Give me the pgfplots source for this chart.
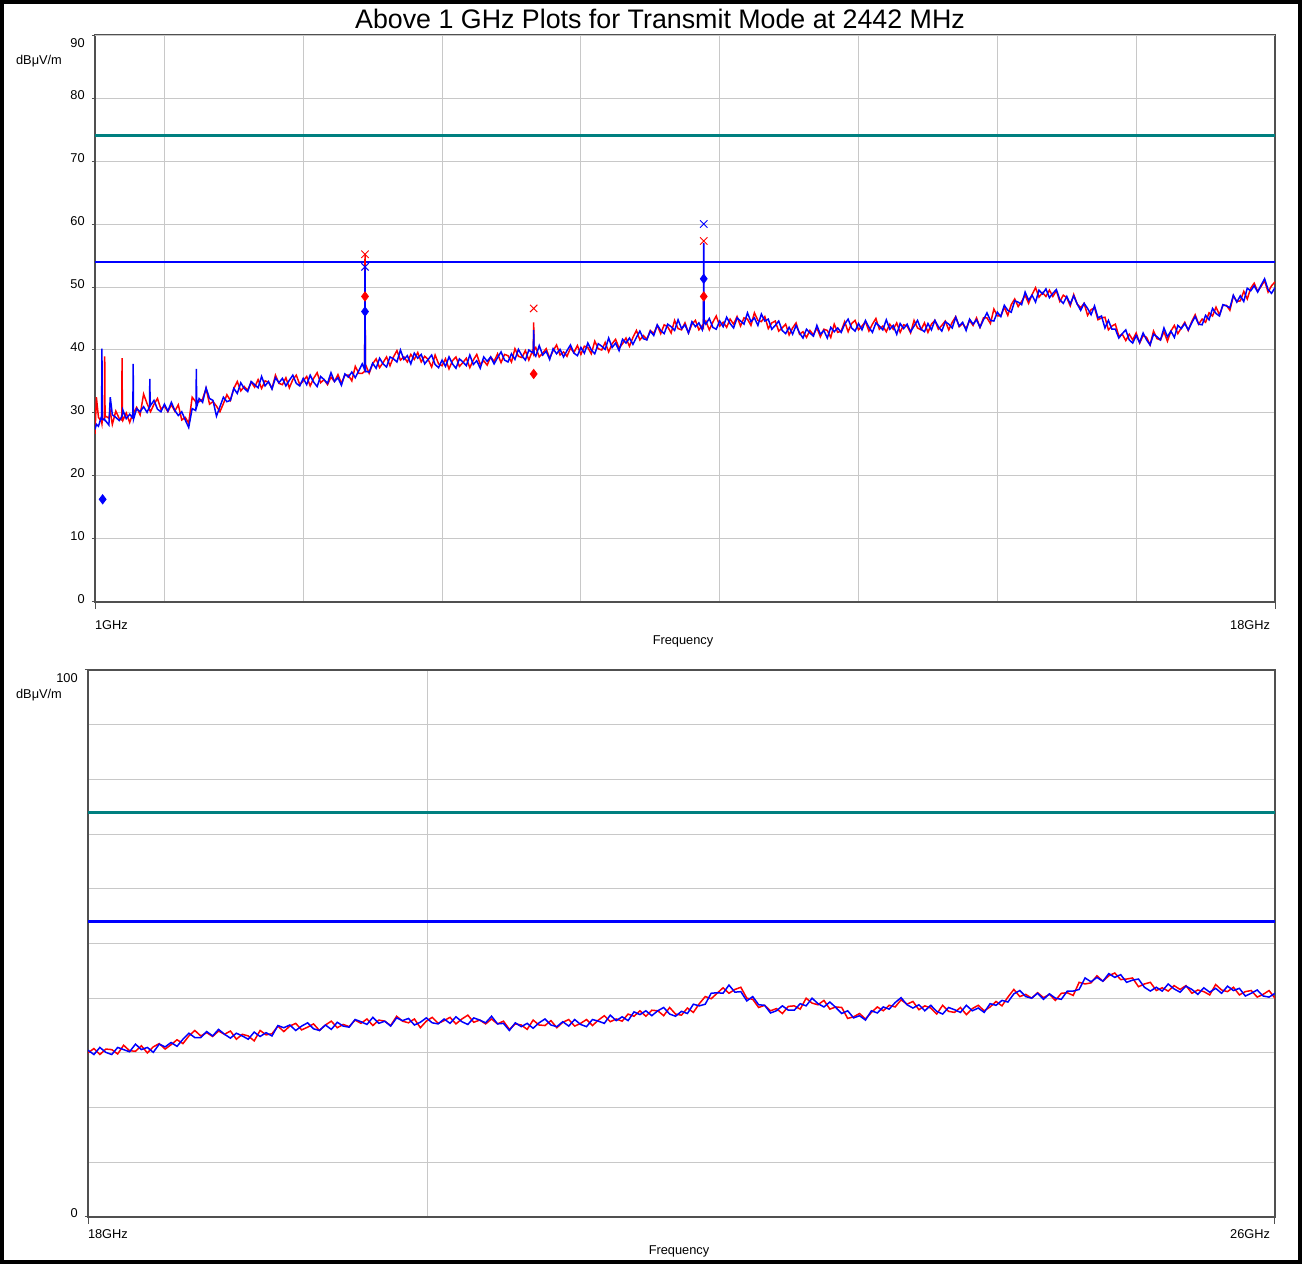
\documentclass[border=0pt]{standalone}
\usepackage{fontspec}
\setmainfont{Liberation Sans}
\usepackage{pgfplots}
\usepackage{pgfplotstable}
\pgfplotsset{compat=1.18}

\definecolor{limteal}{RGB}{0,128,128}
\definecolor{trred}{RGB}{255,0,0}
\definecolor{trblue}{RGB}{0,0,255}
\definecolor{gridc}{RGB}{200,200,200}
\definecolor{framec}{RGB}{80,80,80}

\newcommand{\smallf}{\fontsize{6.4}{7.5}\selectfont}

% 1 - 18 GHz scan: x = GHz, r = red trace, b = blue trace
\pgfplotstableread{
x r b
1.00 26.7 27.4
1.02 32.5 28.2
1.05 29.3 27.9
1.095 28.6 29.5
1.10 28.3 40.2
1.105 28.9 29.0
1.135 29.2 28.9
1.14 39.0 29.0
1.145 29.4 28.8
1.15 29.5 28.8
1.20 29.2 28.1
1.22 30.2 32.5
1.25 28.2 29.7
1.30 30.3 29.3
1.35 29.1 28.8
1.385 28.9 29.4
1.39 38.7 29.6
1.395 29.0 29.8
1.40 28.8 30.5
1.45 30.0 29.1
1.50 28.5 29.8
1.545 29.9 29.2
1.55 30.1 37.8
1.555 30.0 29.0
1.60 30.9 30.7
1.65 29.7 30.2
1.70 33.0 31.0
1.75 31.5 30.1
1.785 30.6 31.0
1.79 30.4 35.4
1.795 30.3 31.1
1.80 30.2 31.2
1.85 31.4 32.0
1.90 32.3 30.6
1.95 30.6 30.2
2.00 31.1 31.4
2.05 30.2 30.3
2.10 31.3 31.7
2.15 30.3 30.4
2.20 31.3 29.6
2.25 28.9 30.2
2.30 29.3 28.9
2.35 28.4 27.7
2.40 32.5 30.7
2.45 31.8 30.4
2.455 31.6 30.8
2.46 31.5 37.0
2.465 31.6 31.0
2.50 31.8 32.3
2.55 32.2 31.7
2.60 33.9 34.0
2.65 31.4 32.3
2.70 31.8 32.0
2.75 31.1 29.5
2.80 30.2 31.0
2.85 31.5 32.5
2.90 32.9 31.8
2.95 32.0 32.0
3.00 33.9 33.9
3.05 35.0 33.1
3.10 33.5 34.8
3.15 34.2 33.9
3.20 33.6 33.4
3.25 34.9 35.0
3.30 34.1 34.5
3.35 35.3 34.0
3.40 33.9 35.8
3.45 35.1 34.3
3.50 34.9 35.0
3.55 33.9 33.8
3.60 36.0 35.6
3.65 34.7 34.8
3.70 34.5 35.5
3.75 35.6 34.3
3.80 34.0 35.2
3.85 35.3 36.0
3.90 36.0 34.7
3.95 34.5 34.3
4.00 35.1 35.5
4.05 35.8 34.5
4.10 34.3 36.0
4.15 35.5 34.9
4.20 36.4 34.2
4.25 34.8 35.8
4.30 35.3 35.3
4.35 34.5 34.7
4.40 35.7 36.4
4.45 35.0 35.0
4.50 36.1 35.6
4.55 34.7 34.4
4.60 36.0 36.2
4.65 36.0 35.7
4.70 35.1 36.5
4.75 37.4 35.6
4.80 36.3 36.7
4.85 36.3 37.8
4.885 36.6 36.9
4.89 55.2 53.2
4.895 37.5 37.2
4.90 37.6 36.6
4.95 36.3 36.5
5.00 37.8 37.9
5.05 38.6 37.1
5.10 37.2 38.7
5.15 38.0 37.8
5.20 38.9 37.3
5.25 37.5 38.9
5.30 38.9 38.6
5.35 39.9 38.1
5.40 38.4 40.0
5.45 38.9 38.5
5.50 38.1 39.1
5.55 39.3 37.8
5.60 38.5 39.5
5.65 39.6 38.7
5.70 38.1 39.3
5.75 39.0 37.8
5.80 38.5 38.5
5.85 37.3 39.2
5.90 39.2 37.7
5.95 37.8 37.2
6.00 37.5 38.4
6.05 38.6 37.4
6.10 37.0 38.9
6.15 38.3 37.8
6.20 38.9 37.1
6.25 37.4 38.6
6.30 38.0 38.1
6.35 38.7 37.5
6.40 37.2 39.2
6.45 38.4 37.7
6.50 39.3 38.3
6.55 37.7 37.1
6.60 38.3 38.9
6.65 37.6 38.2
6.70 38.9 38.9
6.75 38.2 37.8
6.80 39.4 38.8
6.85 38.0 39.7
6.90 39.3 38.4
6.95 39.1 38.1
7.00 38.1 39.4
7.05 40.2 38.5
7.10 39.0 40.1
7.15 38.8 39.1
7.20 39.9 38.4
7.25 38.4 40.0
7.30 39.8 39.6
7.315 39.4 39.8
7.32 44.4 43.2
7.325 40.0 39.4
7.35 40.4 39.0
7.40 38.9 40.7
7.45 39.5 39.2
7.50 40.2 39.8
7.55 38.7 38.5
7.60 39.9 40.2
7.65 40.8 39.4
7.70 39.2 40.1
7.75 39.7 38.9
7.80 39.0 39.9
7.85 40.3 40.8
7.90 39.6 39.5
7.95 40.7 39.1
8.00 39.3 40.4
8.05 40.6 39.5
8.10 40.4 41.1
8.15 39.4 40.0
8.20 41.4 39.4
8.25 40.2 41.0
8.30 40.0 40.6
8.35 41.2 40.1
8.40 39.7 41.9
8.45 41.0 40.4
8.50 41.7 41.1
8.55 40.3 39.9
8.60 41.0 41.7
8.65 41.9 41.1
8.70 40.6 41.9
8.75 42.0 40.9
8.80 43.1 42.0
8.85 41.6 43.0
8.90 42.3 41.8
8.95 41.7 41.6
9.00 43.1 43.0
9.05 42.6 42.3
9.10 43.9 44.0
9.15 42.6 43.1
9.20 44.0 42.6
9.25 43.7 44.1
9.30 42.7 43.7
9.35 44.7 43.1
9.40 43.4 44.8
9.45 43.2 43.4
9.50 44.3 44.0
9.55 42.7 42.7
9.60 44.1 44.5
9.65 44.7 43.7
9.70 43.2 44.3
9.75 43.9 43.2
9.765 43.6 44.0
9.77 48.0 57.0
9.775 44.2 44.6
9.80 44.6 44.1
9.85 43.2 45.0
9.90 44.4 43.6
9.95 45.4 43.3
10.00 43.8 44.6
10.05 44.4 43.7
10.10 43.6 45.2
10.15 44.9 44.2
10.20 44.1 43.5
10.25 45.3 45.1
10.30 43.8 44.6
10.35 45.1 44.1
10.40 44.9 45.9
10.45 43.9 44.5
10.50 45.9 45.1
10.55 44.7 43.9
10.60 44.5 45.7
10.65 45.3 44.6
10.70 43.4 44.9
10.75 44.3 43.3
10.80 44.6 43.9
10.85 43.0 44.6
10.90 43.5 43.1
10.95 44.1 42.6
11.00 42.4 43.6
11.05 43.5 42.5
11.10 44.3 43.9
11.15 42.5 42.7
11.20 42.9 41.9
11.25 42.0 43.3
11.30 43.1 42.7
11.35 42.4 42.2
11.40 43.5 43.9
11.45 42.1 42.5
11.50 43.3 43.1
11.55 43.1 41.9
11.60 42.0 43.6
11.65 44.1 42.9
11.70 42.8 43.5
11.75 43.0 42.8
11.80 44.5 44.1
11.85 42.9 44.9
11.90 44.2 43.5
11.95 44.7 43.0
12.00 43.2 44.2
12.05 43.8 43.2
12.10 44.5 44.7
12.15 43.0 43.6
12.20 44.1 42.8
12.25 45.0 44.3
12.30 43.3 43.8
12.35 43.8 43.2
12.40 42.9 44.8
12.45 44.1 43.3
12.50 43.3 43.9
12.55 44.3 42.5
12.60 42.8 44.2
12.65 44.0 43.4
12.70 43.8 44.1
12.75 42.7 42.9
12.80 44.7 43.8
12.85 43.5 44.7
12.90 43.2 43.3
12.95 44.3 42.9
13.00 42.8 44.2
13.05 44.1 43.2
13.10 44.7 44.7
13.15 43.3 43.7
13.20 43.9 43.0
13.25 44.6 44.5
13.30 43.2 44.1
13.35 44.4 43.5
13.40 45.3 45.2
13.45 43.7 43.8
13.50 44.2 44.4
13.55 43.4 43.1
13.60 44.7 44.9
13.65 43.9 44.1
13.70 45.1 44.8
13.75 43.6 43.6
13.80 45.1 44.8
13.85 45.1 45.9
13.90 44.2 44.7
13.95 46.5 44.6
14.00 45.4 46.0
14.05 45.4 45.3
14.10 46.8 47.1
14.15 45.5 46.3
14.20 47.2 46.0
14.25 48.1 47.8
14.30 46.9 47.6
14.35 47.7 47.2
14.40 48.7 49.2
14.45 47.4 47.9
14.50 48.8 48.7
14.55 49.9 47.6
14.60 48.4 49.5
14.65 49.1 48.9
14.70 48.5 49.7
14.75 49.5 48.3
14.80 48.5 49.0
14.85 49.4 49.6
14.90 47.7 48.0
14.95 48.7 47.4
15.00 48.3 48.5
15.05 47.0 47.3
15.10 48.8 48.6
15.15 47.3 47.3
15.20 46.7 46.3
15.25 47.4 47.4
15.30 45.5 46.6
15.35 46.4 45.6
15.40 46.7 47.0
15.45 44.8 45.1
15.50 45.1 45.4
15.55 45.2 43.5
15.60 43.2 44.7
15.65 43.8 43.3
15.70 44.1 43.3
15.75 42.2 41.9
15.80 42.5 42.6
15.85 41.5 43.2
15.90 42.5 41.6
15.95 41.6 41.1
16.00 42.7 42.3
16.05 41.1 41.2
16.10 42.3 42.7
16.15 42.0 41.6
16.20 40.8 40.8
16.25 43.0 42.5
16.30 41.8 42.1
16.35 41.6 41.6
16.40 42.9 43.5
16.45 41.4 42.1
16.50 43.0 43.0
16.55 43.9 42.0
16.60 42.6 43.9
16.65 43.5 43.4
16.70 44.4 44.2
16.75 43.1 43.2
16.80 44.5 44.3
16.85 45.6 45.3
16.90 44.1 44.1
16.95 44.9 44.0
17.00 44.4 45.5
17.05 45.9 44.8
17.10 45.4 46.6
17.15 46.8 45.8
17.20 45.6 45.4
17.25 47.1 47.2
17.30 47.1 47.0
17.35 46.3 46.7
17.40 48.6 48.7
17.45 47.7 47.6
17.50 47.8 48.6
17.55 49.3 47.7
17.60 48.1 49.8
17.65 49.8 49.4
17.70 50.6 50.2
17.75 49.3 49.2
17.80 50.1 50.3
17.85 51.0 51.3
17.90 49.2 49.6
17.95 50.2 49.0
18.00 50.8 49.9
}\toptab

% 18 - 26 GHz scan
\pgfplotstableread{
x r b
18.00 30.0 30.5
18.04 30.8 29.7
18.08 29.7 31.0
18.12 30.7 30.1
18.16 30.6 29.7
18.20 29.8 31.0
18.24 31.4 30.6
18.28 30.4 30.2
18.32 30.3 31.6
18.36 31.3 30.6
18.40 30.0 31.0
18.44 31.1 30.1
18.48 31.7 31.6
18.52 30.7 31.1
18.56 31.5 31.9
18.60 32.4 31.2
18.64 31.7 32.5
18.68 33.1 33.6
18.72 34.1 32.8
18.76 33.1 32.8
18.80 33.7 33.9
18.84 33.0 33.1
18.88 34.0 34.3
18.92 33.4 33.4
18.96 34.0 32.7
19.00 32.5 33.6
19.04 33.4 33.1
19.08 33.1 32.5
19.12 32.2 33.8
19.16 34.1 33.0
19.20 33.3 33.7
19.24 33.5 33.1
19.28 34.9 35.0
19.32 33.9 34.6
19.36 34.9 35.1
19.40 35.4 34.1
19.44 34.2 34.9
19.48 34.7 35.5
19.52 35.3 34.4
19.56 34.1 34.1
19.60 35.1 35.1
19.64 35.8 34.3
19.68 34.6 35.6
19.72 35.2 34.9
19.76 34.8 34.7
19.80 36.0 36.1
19.84 35.4 35.7
19.88 36.2 35.2
19.92 35.0 36.5
19.96 36.0 35.4
20.00 35.8 35.8
20.04 35.0 34.9
20.08 36.7 36.4
20.12 35.8 35.9
20.16 35.5 36.3
20.20 36.2 35.1
20.24 34.6 35.6
20.28 35.8 36.4
20.32 36.5 35.5
20.36 35.4 35.3
20.40 35.9 36.2
20.44 36.5 35.4
20.48 35.3 36.6
20.52 36.2 35.7
20.56 36.9 35.2
20.60 35.6 36.4
20.64 36.0 36.0
20.68 35.3 35.5
20.72 36.2 36.7
20.76 35.3 35.3
20.80 35.8 35.4
20.84 34.3 34.1
20.88 35.3 35.5
20.92 35.1 34.8
20.96 34.3 35.4
21.00 36.0 34.5
21.04 35.1 35.5
21.08 35.0 36.2
21.12 35.9 35.1
21.16 34.6 34.8
21.20 35.6 35.7
21.24 36.1 34.9
21.28 34.9 36.1
21.32 35.4 35.2
21.36 36.1 34.8
21.40 35.0 36.1
21.44 36.0 35.8
21.48 36.8 35.4
21.52 35.7 36.9
21.56 36.2 35.9
21.60 35.8 36.6
21.64 37.1 35.9
21.68 36.7 37.5
21.72 37.7 37.0
21.76 36.7 37.7
21.80 37.8 36.8
21.84 37.7 37.7
21.88 36.8 38.3
21.92 38.3 37.1
21.96 37.1 36.7
22.00 36.9 37.6
22.04 38.2 37.2
22.08 37.4 38.9
22.12 39.0 38.6
22.16 40.3 38.9
22.20 39.9 40.9
22.24 40.9 41.0
22.28 41.9 40.9
22.32 40.9 42.4
22.36 41.6 41.1
22.40 42.0 41.2
22.44 40.0 39.5
22.48 39.8 40.3
22.52 38.3 38.8
22.56 38.7 38.7
22.60 37.7 37.3
22.64 38.1 37.7
22.68 37.2 38.6
22.72 38.5 37.8
22.76 38.6 37.8
22.80 38.0 39.0
22.84 40.0 38.6
22.88 39.1 40.0
22.92 38.8 39.0
22.96 39.6 38.4
23.00 38.0 39.3
23.04 38.4 38.3
23.08 38.3 37.2
23.12 36.3 37.7
23.16 36.6 36.4
23.20 37.2 36.8
23.24 36.2 36.0
23.28 37.4 37.7
23.32 38.4 37.3
23.36 37.7 38.4
23.40 38.7 38.0
23.44 38.4 39.2
23.48 39.7 40.1
23.52 38.9 38.8
23.56 39.4 38.2
23.60 37.9 38.8
23.64 38.6 37.7
23.68 38.2 38.7
23.72 37.1 37.6
23.76 38.7 37.1
23.80 37.6 38.3
23.84 37.4 37.9
23.88 38.3 37.4
23.92 37.0 38.7
23.96 38.1 37.7
24.00 38.7 38.2
24.04 37.7 37.4
24.08 38.4 39.0
24.12 39.4 38.7
24.16 38.6 39.6
24.20 40.2 39.3
24.24 41.6 40.8
24.28 40.3 41.4
24.32 40.7 40.3
24.36 40.0 40.0
24.40 41.0 40.9
24.44 40.1 39.8
24.48 40.7 40.8
24.52 39.6 40.0
24.56 40.9 39.8
24.60 41.0 41.3
24.64 40.5 41.3
24.68 42.9 41.6
24.72 42.6 43.7
24.76 42.8 43.0
24.80 44.1 43.8
24.84 43.1 43.1
24.88 44.1 44.5
24.92 44.6 43.8
24.96 43.4 44.3
25.00 43.5 42.9
25.04 43.7 43.3
25.08 42.1 43.5
25.12 42.6 42.0
25.16 42.9 41.3
25.20 41.4 42.0
25.24 41.9 41.3
25.28 41.3 42.6
25.32 42.3 41.7
25.36 41.6 41.1
25.40 42.3 42.2
25.44 40.9 41.6
25.48 41.5 40.7
25.52 41.2 41.9
25.56 40.6 41.1
25.60 42.5 41.8
25.64 41.5 40.9
25.68 41.2 42.2
25.72 42.0 41.4
25.76 40.6 41.8
25.80 41.2 40.4
25.84 41.4 40.9
25.88 40.2 41.5
25.92 40.7 40.4
25.96 41.4 40.2
26.00 40.0 40.9
}\bottab

\pgfplotsset{emcplot/.style={
  scale only axis, anchor=south west,
  axis line style={framec, line width=0.6pt},
  tick align=outside, tick pos=left,
  major tick length=1.6pt, minor tick length=0pt,
  tick style={framec, line width=0.5pt},
  grid style={gridc, line width=0.5pt},
  ticklabel style={font=\smallf},
  /pgf/number format/assume math mode=true,
  xtick style={/pgfplots/major tick length=3.5pt},
  xticklabel style={yshift=-4pt},
  yticklabel style={yshift=1.5pt},
}}

\begin{document}
\begin{tikzpicture}

% upper scan, 1 - 18 GHz
\begin{axis}[emcplot,
  at={(47.5pt,331pt)}, width=590pt, height=283.5pt,
  xmin=1, xmax=18, ymin=0, ymax=90,
  xtick={1,18},
  xticklabels={\makebox[0pt][l]{1GHz},\makebox[0pt][r]{18GHz\hspace{2.5pt}}},
  minor xtick={2,4,...,16},
  ytick={0,10,...,80},
  extra y ticks={90},
  extra y tick style={yticklabel style={yshift=-5.5pt}},
  xmajorgrids=false, xminorgrids=true, ymajorgrids=true,
]
\addplot[limteal, line width=1.5pt] coordinates {(1,74) (18,74)};
\addplot[trblue, line width=1.3pt] coordinates {(1,54) (18,54)};
\addplot[trred, line width=0.75pt] table[x=x, y=r] {\toptab};
\addplot[trblue, line width=0.75pt] table[x=x, y=b] {\toptab};
% peak / average markers
\addplot[only marks, mark=x, trred, mark size=2.6pt, line width=0.5pt]
  coordinates {(4.89,55.2) (7.32,46.6) (9.77,57.3)};
\addplot[only marks, mark=x, trblue, mark size=2.6pt, line width=0.5pt]
  coordinates {(4.89,53.2) (9.77,60.0)};
\addplot[only marks, mark=diamond*, trred, mark size=2.3pt]
  coordinates {(4.89,48.5) (7.32,36.2) (9.77,48.5)};
\addplot[only marks, mark=diamond*, trblue, mark size=2.3pt]
  coordinates {(1.11,16.3) (4.89,46.1) (9.77,51.3)};
\end{axis}

% lower scan, 18 - 26 GHz
\begin{axis}[emcplot,
  at={(44pt,23.5pt)}, width=593.5pt, height=273.5pt,
  xmin=18, xmax=26, ymin=0, ymax=100,
  xtick={18,26},
  xticklabels={\makebox[0pt][l]{18GHz},\makebox[0pt][r]{26GHz\hspace{2.5pt}}},
  xticklabel style={yshift=3pt},
  minor xtick={20.29},
  ytick={0},
  minor ytick={10,20,...,90},
  yticklabel style={yshift=0.5pt},
  extra y ticks={100},
  extra y tick style={yticklabel style={yshift=-6pt}},
  xmajorgrids=false, xminorgrids=true,
  ymajorgrids=false, yminorgrids=true,
]
\addplot[limteal, line width=1.5pt] coordinates {(18,74) (26,74)};
\addplot[trblue, line width=1.3pt] coordinates {(18,54) (26,54)};
\addplot[trred, line width=0.75pt] table[x=x, y=r] {\bottab};
\addplot[trblue, line width=0.75pt] table[x=x, y=b] {\bottab};
\end{axis}

\node[anchor=base, font=\fontsize{13.4}{16}\selectfont] at (330pt,617.5pt)
  {Above 1 GHz Plots for Transmit Mode at 2442 MHz};
\node[anchor=base, font=\smallf] at (19.5pt,599.75pt) {dBμV/m};
\node[anchor=base, font=\smallf] at (19.5pt,282.75pt) {dBμV/m};
\node[anchor=base, font=\smallf] at (341.5pt,309.75pt) {Frequency};
\node[anchor=base, font=\smallf] at (339.5pt,4.75pt) {Frequency};

\draw[line width=2pt] (1pt,1pt) rectangle (650pt,631pt);
\end{tikzpicture}
\end{document}
